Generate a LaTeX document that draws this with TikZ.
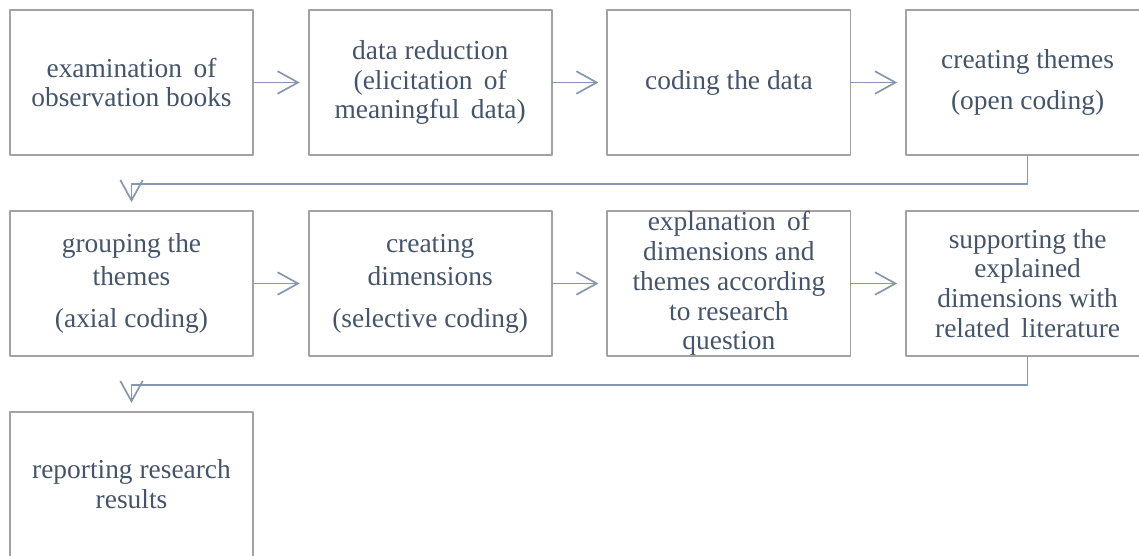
\documentclass[tikz,border=0pt]{standalone}
\usepackage{fontspec}
\setmainfont{Liberation Serif}
\usetikzlibrary{arrows.meta}
\definecolor{txtslate}{HTML}{44546A}
\definecolor{linkslate}{HTML}{8696AE}
\definecolor{boxgray}{HTML}{A2A2A2}

\begin{document}
\begin{tikzpicture}[x=0.025cm,y=-0.025cm,line cap=round,line join=round,
  stage/.style={draw=boxgray,line width=1.3pt,minimum width=6.075cm,minimum height=3.625cm,
    align=center,text=txtslate,inner sep=0pt,font=\fontsize{19.5}{21.2}\selectfont},
  link/.style={draw=linkslate,line width=1.2pt,-{Straight Barb[length=14.5pt,width=16pt]},shorten >=5.7pt}]
  \useasboundingbox (0,0) rectangle (1139,556);
  \clip (0,0) rectangle (1139,556);
  \node[stage] (exam) at (131.5,82.5) {examination\, of\\observation books};
  \node[stage] (reduce) at (430.2,82.5) {data reduction\\(elicitation\, of\\meaningful\, data)};
  \node[stage] (code) at (728.9,82.5) {coding the data};
  \node[stage] (themes) at (1027.6,82.5) {creating themes\\[8pt](open coding)};
  \node[stage] (group) at (131.5,283.5) {grouping the\\[2.5pt]themes\\[8.5pt](axial coding)};
  \node[stage] (dims) at (430.2,283.5) {creating\\[2.5pt]dimensions\\[8.5pt](selective coding)};
  \node[stage] (explain) at (728.9,283.5) {explanation\, of\\dimensions and\\themes according\\to research\\question};
  \node[stage] (support) at (1027.6,283.5) {supporting the\\explained\\dimensions with\\related\, literature};
  \node[stage] (report) at (131.5,484.5) {reporting research\\results};
  \draw[link] (exam) -- (reduce);
  \draw[link] (reduce) -- (code);
  \draw[link] (code) -- (themes);
  \draw[link] (themes.south) -- ++(0,28) -| (group.north);
  \draw[link] (group) -- (dims);
  \draw[link] (dims) -- (explain);
  \draw[link] (explain) -- (support);
  \draw[link] (support.south) -- ++(0,28) -| (report.north);
\end{tikzpicture}
\end{document}
